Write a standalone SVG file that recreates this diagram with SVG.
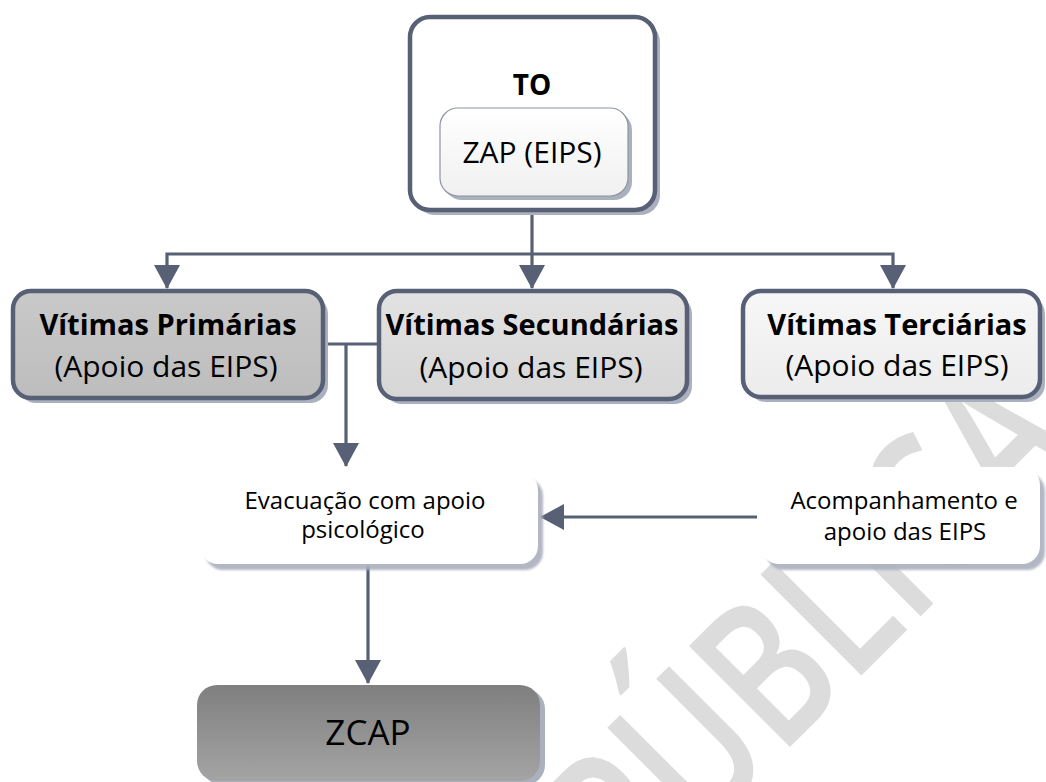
<svg xmlns="http://www.w3.org/2000/svg" width="1046" height="782" viewBox="0 0 1046 782">
  <defs>
    <style>
      .box { stroke: #586076; stroke-width: 4.5; }
      .shadow { fill: #aab0bd; }
      .conn { fill: none; stroke: #586076; stroke-width: 3.2; }
      .t { font-family: "Open Sans", "Noto Sans", "Liberation Sans", sans-serif; fill: #000; text-anchor: middle; }
      .b { font-weight: bold; font-size: 29px; }
      .r { font-size: 30px; }
      .s { font-size: 24px; }
    </style>
    <linearGradient id="gPrim" x1="0" y1="0" x2="0" y2="1">
      <stop offset="0" stop-color="#c9c9c9"/>
      <stop offset="1" stop-color="#bdbdbd"/>
    </linearGradient>
    <linearGradient id="gSec" x1="0" y1="0" x2="0" y2="1">
      <stop offset="0" stop-color="#e2e2e2"/>
      <stop offset="1" stop-color="#d6d6d6"/>
    </linearGradient>
    <linearGradient id="gTer" x1="0" y1="0" x2="0" y2="1">
      <stop offset="0" stop-color="#f7f7f7"/>
      <stop offset="1" stop-color="#ececec"/>
    </linearGradient>
    <linearGradient id="gZap" x1="0" y1="0" x2="0" y2="1">
      <stop offset="0" stop-color="#ffffff"/>
      <stop offset="1" stop-color="#f0f0f0"/>
    </linearGradient>
    <linearGradient id="gZcap" x1="0" y1="0" x2="0" y2="1">
      <stop offset="0" stop-color="#7f7f7f"/>
      <stop offset="1" stop-color="#a4a4a4"/>
    </linearGradient>
    <filter id="blur" x="-5%" y="-5%" width="110%" height="120%">
      <feGaussianBlur stdDeviation="1.2"/>
    </filter>
    <marker id="arrow" markerUnits="userSpaceOnUse" markerWidth="26" markerHeight="26" viewBox="0 0 24 26" refX="23" refY="13" orient="auto">
      <path d="M0,0 L24,13 L0,26 z" fill="#586076"/>
    </marker>
  </defs>

  <rect width="1046" height="782" fill="#ffffff"/>

  <!-- watermark -->
  <text transform="translate(632,905) rotate(-45)" font-family="'Open Sans', 'Noto Sans', sans-serif" font-size="200" font-weight="600" fill="#dcdcdc" textLength="640" lengthAdjust="spacingAndGlyphs">PÚBLICA</text>

  <g id="connectors">
    <path class="conn" d="M532,212 V288" marker-end="url(#arrow)"/>
    <path class="conn" d="M532,254 H167 V288" marker-end="url(#arrow)"/>
    <path class="conn" d="M532,254 H893 V288" marker-end="url(#arrow)"/>
    <path class="conn" d="M324,344 H378"/>
    <path class="conn" d="M346,344 V466" marker-end="url(#arrow)"/>
    <path class="conn" d="M757,517 H541" marker-end="url(#arrow)"/>
    <path class="conn" d="M368,566 V683" marker-end="url(#arrow)"/>
  </g>

  <g id="node-to">
    <rect class="shadow" x="415" y="22" width="245" height="193" rx="20"/>
    <rect class="box" x="410" y="17" width="245" height="193" rx="20" fill="#ffffff"/>
    <text class="t" x="532" y="95" font-size="28" font-weight="bold">TO</text>
  </g>

  <g id="node-zap">
    <rect class="shadow" x="444" y="112" width="188" height="88" rx="18"/>
    <rect x="440" y="108" width="188" height="88" rx="18" fill="url(#gZap)" stroke="#8d94a3" stroke-width="1.2"/>
    <text class="t r" x="532" y="163">ZAP (EIPS)</text>
  </g>

  <g id="node-primarias">
    <rect class="shadow" x="18" y="296" width="310" height="107" rx="18"/>
    <rect class="box" x="13" y="291" width="310" height="107" rx="18" fill="url(#gPrim)"/>
    <text class="t b" x="168" y="335">Vítimas Primárias</text>
    <text class="t r" x="166" y="377">(Apoio das EIPS)</text>
  </g>

  <g id="node-secundarias">
    <rect class="shadow" x="384" y="296" width="308" height="108" rx="18"/>
    <rect class="box" x="379" y="291" width="308" height="108" rx="18" fill="url(#gSec)"/>
    <text class="t b" x="532" y="335">Vítimas Secundárias</text>
    <text class="t r" x="531" y="378">(Apoio das EIPS)</text>
  </g>

  <g id="node-terciarias">
    <rect class="shadow" x="748" y="296" width="297" height="106" rx="18"/>
    <rect class="box" x="743" y="291" width="297" height="106" rx="18" fill="url(#gTer)"/>
    <text class="t b" x="897" y="335">Vítimas Terciárias</text>
    <text class="t r" x="897" y="376">(Apoio das EIPS)</text>
  </g>

  <g id="node-evacuacao">
    <rect class="shadow" x="205" y="478" width="338" height="92" rx="18" opacity="0.9" filter="url(#blur)"/>
    <rect x="200" y="472" width="338" height="92" rx="18" fill="#ffffff"/>
    <text class="t s" x="365" y="509">Evacuação com apoio</text>
    <text class="t s" x="363" y="538">psicológico</text>
  </g>

  <g id="node-acompanhamento">
    <rect class="shadow" x="766" y="473" width="279" height="97" rx="18" opacity="0.9" filter="url(#blur)"/>
    <rect x="761" y="467" width="279" height="97" rx="18" fill="#ffffff"/>
    <text class="t s" x="904" y="509">Acompanhamento e</text>
    <text class="t s" x="905" y="540">apoio das EIPS</text>
  </g>

  <g id="node-zcap">
    <rect class="shadow" x="202" y="689" width="343" height="96" rx="20"/>
    <rect x="197" y="685" width="343" height="96" rx="20" fill="url(#gZcap)"/>
    <text class="t" x="368" y="745" font-size="35">ZCAP</text>
  </g>
</svg>
